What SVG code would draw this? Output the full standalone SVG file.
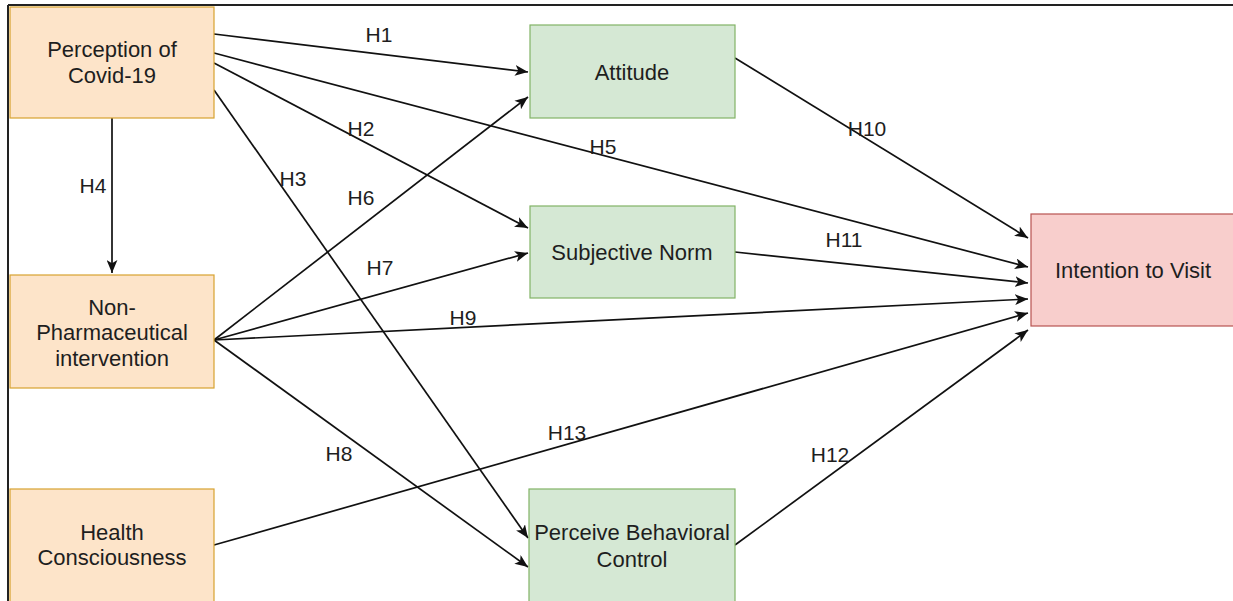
<svg xmlns="http://www.w3.org/2000/svg" width="1233" height="601" viewBox="0 0 1233 601">
<defs>
<marker id="arr" viewBox="0 0 12 10" refX="12" refY="5" markerWidth="13" markerHeight="11" markerUnits="userSpaceOnUse" orient="auto">
<path d="M0,0 L12,5 L0,10 L3,5 z" fill="#111"/>
</marker>
<style>
.org{fill:#fde4c9;stroke:#d7a230;stroke-width:1.2}
.grn{fill:#d5e8d4;stroke:#82b366;stroke-width:1.2}
.red{fill:#f8cecc;stroke:#b85450;stroke-width:1.2}
.nt{font-family:"Liberation Sans",Arial,sans-serif;font-size:22px;fill:#1e1e1e;text-anchor:middle}
.lb{font-family:"Liberation Sans",Arial,sans-serif;font-size:21px;fill:#1e1e1e;text-anchor:middle}
.ln{stroke:#111;stroke-width:1.7;fill:none;marker-end:url(#arr)}
</style>
</defs>
<rect x="0" y="0" width="1233" height="601" fill="#ffffff"/>
<g id="frame">
<line x1="8" y1="5" x2="1233" y2="5" stroke="#222" stroke-width="2"/>
<line x1="8" y1="5" x2="8" y2="601" stroke="#222" stroke-width="2"/>
</g>
<g id="connectors">
<line class="ln" x1="214" y1="34" x2="528" y2="72"/>
<line class="ln" x1="214" y1="53" x2="1028" y2="267"/>
<line class="ln" x1="214" y1="63" x2="528" y2="228"/>
<line class="ln" x1="214" y1="90" x2="528" y2="538"/>
<line class="ln" x1="112" y1="118" x2="112" y2="273"/>
<line class="ln" x1="214" y1="340" x2="528" y2="97"/>
<line class="ln" x1="214" y1="340" x2="528" y2="253"/>
<line class="ln" x1="214" y1="340" x2="1028" y2="299"/>
<line class="ln" x1="214" y1="340" x2="528" y2="567"/>
<line class="ln" x1="214" y1="545" x2="1028" y2="313"/>
<line class="ln" x1="735" y1="58" x2="1028" y2="238"/>
<line class="ln" x1="735" y1="252" x2="1028" y2="283"/>
<line class="ln" x1="735" y1="545" x2="1028" y2="330"/>
</g>
<g id="labels">
<text class="lb" x="379" y="42">H1</text>
<text class="lb" x="361" y="136">H2</text>
<text class="lb" x="293" y="186">H3</text>
<text class="lb" x="93" y="193">H4</text>
<text class="lb" x="603" y="154">H5</text>
<text class="lb" x="361" y="205">H6</text>
<text class="lb" x="380" y="275">H7</text>
<text class="lb" x="339" y="461">H8</text>
<text class="lb" x="463" y="325">H9</text>
<text class="lb" x="867" y="136">H10</text>
<text class="lb" x="844" y="247">H11</text>
<text class="lb" x="830" y="462">H12</text>
<text class="lb" x="567" y="440">H13</text>
</g>
<g id="perception">
<rect class="org" x="10" y="7" width="204" height="111"/>
<text class="nt" x="112" y="57">Perception of</text>
<text class="nt" x="112" y="83">Covid-19</text>
</g>
<g id="npi">
<rect class="org" x="10" y="275" width="204" height="113"/>
<text class="nt" x="112" y="315">Non-</text>
<text class="nt" x="112" y="340">Pharmaceutical</text>
<text class="nt" x="112" y="366">intervention</text>
</g>
<g id="health">
<rect class="org" x="10" y="489" width="204" height="114"/>
<text class="nt" x="112" y="540">Health</text>
<text class="nt" x="112" y="565">Consciousness</text>
</g>
<g id="attitude">
<rect class="grn" x="530" y="25" width="205" height="93"/>
<text class="nt" x="632" y="80">Attitude</text>
</g>
<g id="subjective">
<rect class="grn" x="530" y="206" width="205" height="92"/>
<text class="nt" x="632" y="260">Subjective Norm</text>
</g>
<g id="pbc">
<rect class="grn" x="529" y="489" width="206" height="114"/>
<text class="nt" x="632" y="540">Perceive Behavioral</text>
<text class="nt" x="632" y="567">Control</text>
</g>
<g id="intention">
<rect class="red" x="1031" y="214" width="205" height="112"/>
<text class="nt" x="1133" y="278">Intention to Visit</text>
</g>
</svg>
